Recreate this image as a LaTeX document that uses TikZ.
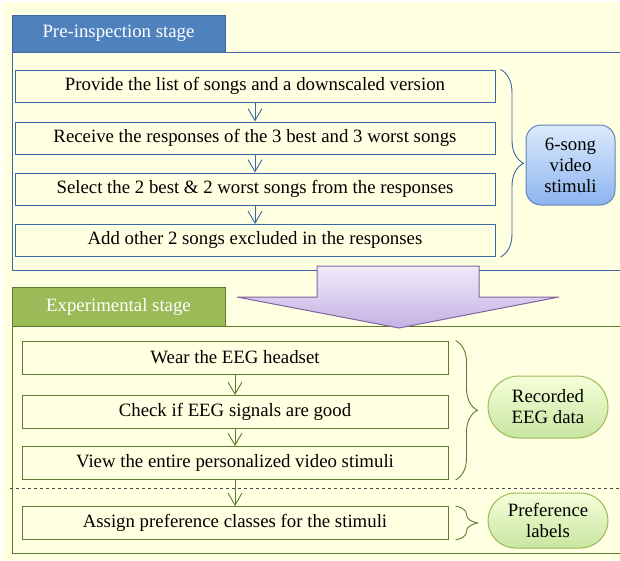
\documentclass[tikz,border=0pt]{standalone}
\usepackage{fontspec}
\setmainfont{Liberation Serif}
\usetikzlibrary{arrows.meta, shapes.misc, decorations.pathreplacing}

\definecolor{bgyellow}{RGB}{255,255,226}
\definecolor{tabblue}{RGB}{79,129,189}
\definecolor{lineblue}{RGB}{62,101,165}
\definecolor{tabgreen}{RGB}{155,187,89}
\definecolor{linegreen}{RGB}{94,122,48}
\definecolor{bigpurple}{RGB}{128,100,162}

\tikzset{
  stagetab/.style={draw, minimum width=213pt, inner sep=0pt, text=white, font=\fontsize{18.8}{21}\selectfont},
  prebox/.style={draw=lineblue, fill=bgyellow, line width=1pt, minimum width=480pt, minimum height=32pt, inner sep=0pt, font=\fontsize{18.8}{21}\selectfont},
  expbox/.style={draw=linegreen, fill=bgyellow, line width=1pt, minimum width=426pt, minimum height=33pt, inner sep=0pt, font=\fontsize{18.8}{21}\selectfont},
  flowarr/.style={-{Straight Barb[length=12pt, width=14pt]}, line width=0.9pt},
  sidebrace/.style={decorate, line width=0.9pt},
  greenlabel/.style={rounded rectangle, draw=tabgreen, line width=1pt, top color=green!4!bgyellow, bottom color={rgb,255:red,200;green,230;blue,160}, minimum width=120pt, inner sep=0pt, align=center, font=\fontsize{18.8}{21}\selectfont}
}

\begin{document}
\begin{tikzpicture}[x=1pt, y=-1pt]
\useasboundingbox (0,0) rectangle (620,560);
\fill[bgyellow] (2,2) rectangle (620,560);

\draw[lineblue, line width=1pt] (12,52) rectangle (640,270);
\node (pretab)[stagetab, draw=lineblue, fill=tabblue, minimum height=37pt] at (118.5,33.5) {Pre-inspection stage};

\node (p1)[prebox] at (255,86) {Provide the list of songs and a downscaled version};
\node (p2)[prebox] at (255,138) {Receive the responses of the 3 best and 3 worst songs};
\node (p3)[prebox] at (255,189) {Select the 2 best \& 2 worst songs from the responses};
\node (p4)[prebox] at (255,240.5) {Add other 2 songs excluded in the responses};

\draw[flowarr, lineblue] (p1) -- (p2);
\draw[flowarr, lineblue] (p2) -- (p3);
\draw[flowarr, lineblue] (p3) -- (p4);

\draw[sidebrace, lineblue, decoration={brace, amplitude=23pt}] ([xshift=5pt]p1.north east) -- ([xshift=5pt]p4.south east);
\node (stim)[draw=lineblue!80, line width=1pt, rounded corners=15pt, top color={rgb,255:red,220;green,234;blue,252}, bottom color={rgb,255:red,140;green,180;blue,240}, minimum width=89pt, minimum height=80pt, inner sep=0pt, align=center, font=\fontsize{18.8}{21}\selectfont] at (570.5,165) {6-song\\video\\stimuli};

\draw[linegreen, line width=1pt] (12,326) rectangle (640,553);
\node (exptab)[stagetab, draw=linegreen, fill=tabgreen, minimum height=39pt] at (118.5,306.5) {Experimental stage};

\node (e1)[expbox] at (235,357.5) {Wear the EEG headset};
\node (e2)[expbox] at (235,412) {Check if EEG signals are good};
\node (e3)[expbox] at (235,463) {View the entire personalized video stimuli};
\node (e4)[expbox] at (235,523) {Assign preference classes for the stimuli};

\draw[dashed, black!70] (10,488) -- (620,488);

\draw[flowarr, linegreen] (e1) -- (e2);
\draw[flowarr, linegreen] (e2) -- (e3);
\draw[flowarr, linegreen] (e3) -- (e4);

\draw[sidebrace, linegreen, decoration={brace, amplitude=22pt}] ([xshift=7pt]e1.north east) -- ([xshift=7pt]e3.south east);
\draw[sidebrace, linegreen, decoration={brace, amplitude=22pt}] ([xshift=7pt]e4.north east) -- ([xshift=7pt]e4.south east);
\node (rec)[greenlabel, minimum height=62pt] at (548,407) {Recorded\\EEG data};
\node (pref)[greenlabel, minimum height=55pt] at (548,520.5) {Preference\\labels};

\shade[top color={rgb,255:red,240;green,236;blue,250}, bottom color={rgb,255:red,196;green,176;blue,226}, draw=bigpurple, line width=1pt]
  (317,266) -- (479,266) -- (479,297) -- (559,297) -- (399,328) -- (237,297) -- (317,297) -- cycle;
\end{tikzpicture}
\end{document}
